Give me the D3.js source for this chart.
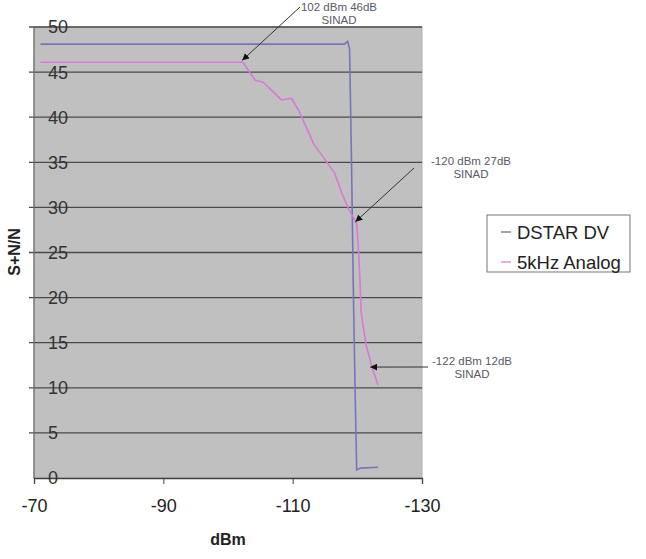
<!DOCTYPE html>
<html>
<head>
<meta charset="utf-8">
<script src="https://cdn.jsdelivr.net/npm/d3@7"></script>
<style>
  body { margin: 0; background: #fff; }
  svg { font-family: "Liberation Sans", Arial, sans-serif; }
</style>
</head>
<body>
<div id="chart"></div>
<script>
// series (dBm, S+N/N)
var dstarDbm = [-71, -118, -118.5, -118.8, -119.1, -119.4, -119.7, -119.9, -120.5, -123.2];
var dstarVal = [48.1, 48.1, 48.4, 47.6, 35, 20, 8, 0.9, 1.1, 1.2];

var analogDbm = [-71, -102.3, -104.2, -105.4, -107.0, -108.3, -109.8, -110.9, -112.1, -113.2, -115.0,
                 -116.5, -117.6, -118.6, -119.6, -119.9, -120.2, -120.4, -120.6, -121.0, -121.4, -122.4, -123.2];
var analogVal = [46.1, 46.1, 44.1, 43.9, 42.8, 41.9, 42.1, 40.8, 38.9, 37.1, 35.3,
                 33.8, 31.6, 29.9, 28.6, 28.2, 25, 22.0, 18.3, 16.4, 14.6, 12.0, 10.3];

var xTicks = [-70, -90, -110, -130];
var yTicks = [0, 5, 10, 15, 20, 25, 30, 35, 40, 45, 50];

var seriesNames = ['DSTAR DV', '5kHz Analog'];
var seriesColors = ['#7474bb', '#d878d8'];
var legendColors = ['#8a8a8a', '#e090e0'];

// annotations: text lines, text centre, arrow start (px) and tip (data)
var notes = [
  { lines: ['102 dBm 46dB', 'SINAD'], tx: 339, ty: 7, from: [300, 7], tip: [-102.2, 46.3] },
  { lines: ['-120 dBm 27dB', 'SINAD'], tx: 471, ty: 161, from: [414, 168], tip: [-119.7, 28.4] },
  { lines: ['-122 dBm 12dB', 'SINAD'], tx: 472, ty: 361, from: [428, 367], tip: [-122.0, 12.3] }
];

var width = 646, height = 559;

var svg = d3.select('#chart').append('svg')
  .attr('width', width)
  .attr('height', height);

var x = d3.scaleLinear().domain([-70, -130]).range([34, 422]);
var y = d3.scaleLinear().domain([0, 50]).range([478, 27]);

//plot background
svg.append('rect')
  .attr('x', x(-70)).attr('y', y(50))
  .attr('width', x(-130) - x(-70)).attr('height', y(0) - y(50))
  .attr('fill', '#c0c0c0')
  .attr('stroke', '#b0b0b0');

//horizontal gridlines
svg.append('g').selectAll('line')
  .data(yTicks.filter(function (d) { return d > 0; }))
  .enter().append('line')
  .attr('x1', x(-70) - 5).attr('x2', x(-130))
  .attr('y1', function (d) { return y(d); })
  .attr('y2', function (d) { return y(d); })
  .attr('stroke', '#4a4a4a')
  .attr('stroke-width', 1.3);

//y axis line
svg.append('line')
  .attr('x1', x(-70)).attr('x2', x(-70))
  .attr('y1', y(50)).attr('y2', y(0))
  .attr('stroke', '#707070').attr('stroke-width', 1.3);

var xAxis = d3.axisBottom(x).tickValues(xTicks).tickSize(6)
  .tickFormat(function (d) { return String(d); });
var gx = svg.append('g')
  .attr('transform', 'translate(0,' + y(0) + ')')
  .call(xAxis);
gx.select('.domain').attr('stroke', '#404040').attr('stroke-width', 1.3);
gx.selectAll('.tick line').attr('stroke', '#404040');
gx.selectAll('.tick text')
  .attr('font-size', 18)
  .attr('fill', '#222')
  .attr('y', 21)
  .attr('font-family', '"Liberation Sans", Arial, sans-serif');

//y tick labels sit inside the plot, on the gridlines
svg.append('g').selectAll('text')
  .data(yTicks)
  .enter().append('text')
  .attr('x', 48)
  .attr('y', function (d) { return y(d); })
  .attr('dy', '0.36em')
  .attr('font-size', 18)
  .attr('fill', '#333')
  .text(function (d) { return d; });

//lines
var line = d3.line()
  .x(function (d) { return x(d[0]); })
  .y(function (d) { return y(d[1]); });

var dstar = dstarDbm.map(function (d, i) { return [d, dstarVal[i]]; });
var analog = analogDbm.map(function (d, i) { return [d, analogVal[i]]; });

svg.append('path')
  .datum(dstar)
  .attr('d', line)
  .attr('fill', 'none')
  .attr('stroke', seriesColors[0])
  .attr('stroke-width', 1.6);

svg.append('path')
  .datum(analog)
  .attr('d', line)
  .attr('fill', 'none')
  .attr('stroke', seriesColors[1])
  .attr('stroke-width', 1.6)
  .attr('stroke-linejoin', 'round');

//axis titles
svg.append('text')
  .attr('x', x(-100)).attr('y', 545)
  .attr('text-anchor', 'middle')
  .attr('font-size', 16)
  .attr('font-weight', 'bold')
  .attr('fill', '#222')
  .text('dBm');

svg.append('text')
  .attr('transform', 'translate(20,252) rotate(-90)')
  .attr('text-anchor', 'middle')
  .attr('font-size', 16)
  .attr('font-weight', 'bold')
  .attr('fill', '#222')
  .text('S+N/N');

//annotations with arrows
svg.append('defs').append('marker')
  .attr('id', 'arrow')
  .attr('viewBox', '0 0 10 10')
  .attr('refX', 10).attr('refY', 5)
  .attr('markerWidth', 7).attr('markerHeight', 7)
  .attr('markerUnits', 'userSpaceOnUse')
  .attr('orient', 'auto')
  .append('path')
  .attr('d', 'M0,0 L10,5 L0,10 z')
  .attr('fill', '#111');

notes.forEach(function (n) {
  svg.append('line')
    .attr('x1', n.from[0]).attr('y1', n.from[1])
    .attr('x2', x(n.tip[0])).attr('y2', y(n.tip[1]))
    .attr('stroke', '#333')
    .attr('stroke-width', 1)
    .attr('marker-end', 'url(#arrow)');

  var t = svg.append('text')
    .attr('x', n.tx).attr('y', n.ty)
    .attr('text-anchor', 'middle')
    .attr('font-size', 11.5)
    .attr('fill', '#5a5a66');
  n.lines.forEach(function (l, i) {
    t.append('tspan')
      .attr('x', n.tx)
      .attr('dy', i === 0 ? '0.35em' : '1.15em')
      .text(l);
  });
});

//legend
var legend = svg.append('g').attr('transform', 'translate(487,215)');
legend.append('rect')
  .attr('width', 143).attr('height', 57)
  .attr('fill', '#fff')
  .attr('stroke', '#777');

seriesNames.forEach(function (name, i) {
  var gy = 17 + i * 30;
  legend.append('line')
    .attr('x1', 14).attr('x2', 24)
    .attr('y1', gy).attr('y2', gy)
    .attr('stroke', legendColors[i])
    .attr('stroke-width', 1.5);
  legend.append('text')
    .attr('x', 30).attr('y', gy)
    .attr('dy', '0.36em')
    .attr('font-size', 18.5)
    .attr('fill', '#222')
    .text(name);
});
</script>
</body>
</html>
